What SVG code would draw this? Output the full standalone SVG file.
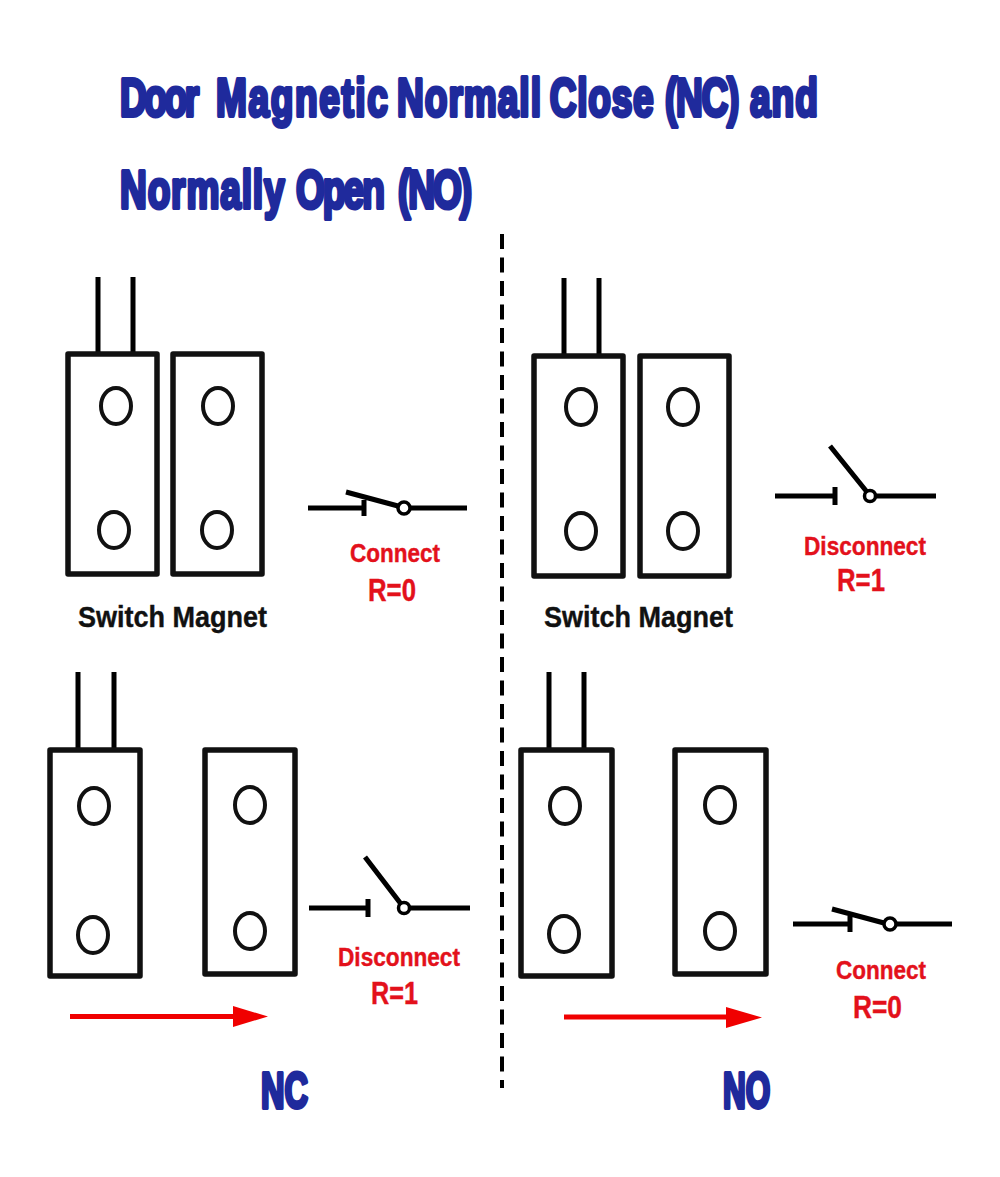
<svg xmlns="http://www.w3.org/2000/svg" width="1000" height="1177" viewBox="0 0 1000 1177">
<style>
text{font-family:"Liberation Sans",Arial,sans-serif;font-weight:bold}
.t{fill:#1f2a9c;stroke:#1f2a9c;stroke-width:4;stroke-linejoin:round;font-size:53px}
.b{fill:#1f2a9c;stroke:#1f2a9c;stroke-width:4;stroke-linejoin:round;font-size:50px}
.r{fill:#e3111b;stroke:#e3111b;stroke-width:.4;font-size:25px}
.v{fill:#e3111b;stroke:#e3111b;stroke-width:.4;font-size:31px}
.k{fill:#111;stroke:#111;stroke-width:.4;font-size:30px}
.box{fill:#fff;stroke:#111;stroke-width:5.500;stroke-linejoin:round}
.hole{fill:#fff;stroke:#111;stroke-width:4}
.ln{stroke:#000;stroke-width:5;fill:none}
.pv{fill:#fff;stroke:#000;stroke-width:3.500}
.ar{stroke:#f00000;stroke-width:5;fill:none}
.hd{fill:#f00000}
</style>
<g id="title">
<text class="t" transform="translate(120 116) scale(.7 1)"><tspan x="0" letter-spacing="-3.500">Door </tspan><tspan x="137" letter-spacing="2.300">Magnetic </tspan><tspan x="395.700" letter-spacing="1.400">Normall </tspan><tspan x="614" letter-spacing="1">Close </tspan><tspan x="778.600" letter-spacing="-1.900">(NC) </tspan><tspan x="900" letter-spacing="1.400">and</tspan></text>
<text class="t" transform="translate(120 208) scale(.7 1)"><tspan x="0" letter-spacing="1.200">Normally </tspan><tspan x="251.400" letter-spacing="-2.800">Open </tspan><tspan x="397" letter-spacing="-2.900">(NO)</tspan></text>
</g>
<g id="connectors">
<path d="M502 234V1088" stroke="#000" stroke-width="4" stroke-dasharray="15 8.500" fill="none"/>
<path class="ar" d="M70 1016.500H236"/><polygon class="hd" points="233,1006 268,1016.500 233,1027"/>
<path class="ar" d="M564 1017H728"/><polygon class="hd" points="726,1007 762,1017.500 726,1028"/>
</g>
<g id="nc-switch-closed">
<path class="ln" d="M98 277V352M133 277V352"/>
<rect class="box" x="68" y="354" width="89" height="220"/>
<ellipse class="hole" cx="116" cy="406" rx="15" ry="18"/><ellipse class="hole" cx="114" cy="530" rx="15" ry="18"/>
</g>
<g id="nc-magnet-closed">
<rect class="box" x="173" y="354" width="89" height="220"/>
<ellipse class="hole" cx="218" cy="406" rx="15" ry="18"/><ellipse class="hole" cx="217" cy="530" rx="15" ry="18"/>
</g>
<g id="nc-symbol-closed">
<path class="ln" d="M308 508H364M364 500V516M346 492L398 506M410 508H467"/>
<circle class="pv" cx="404" cy="508" r="6"/>
<text class="r" x="350" y="562" textLength="90" lengthAdjust="spacingAndGlyphs">Connect</text>
<text class="v" x="368" y="601" textLength="48" lengthAdjust="spacingAndGlyphs">R=0</text>
</g>
<text id="label-left" class="k" x="78" y="627" textLength="189" lengthAdjust="spacingAndGlyphs">Switch Magnet</text>
<g id="no-switch-open">
<path class="ln" d="M564 278V354M599 278V354"/>
<rect class="box" x="534" y="356" width="89" height="220"/>
<ellipse class="hole" cx="581" cy="407" rx="15" ry="18"/><ellipse class="hole" cx="581" cy="531" rx="15" ry="18"/>
</g>
<g id="no-magnet-open">
<rect class="box" x="640" y="356" width="89" height="220"/>
<ellipse class="hole" cx="683" cy="407" rx="15" ry="18"/><ellipse class="hole" cx="683" cy="531" rx="15" ry="18"/>
</g>
<g id="no-symbol-open">
<path class="ln" d="M775 496H835M835 487V505M830 446L867 492M876 496H936"/>
<circle class="pv" cx="870" cy="496" r="5.500"/>
<text class="r" x="804" y="555" textLength="122" lengthAdjust="spacingAndGlyphs">Disconnect</text>
<text class="v" x="837" y="591" textLength="48" lengthAdjust="spacingAndGlyphs">R=1</text>
</g>
<text id="label-right" class="k" x="544" y="627" textLength="189" lengthAdjust="spacingAndGlyphs">Switch Magnet</text>
<g id="nc-switch-apart">
<path class="ln" d="M78 672V748M114 672V748"/>
<rect class="box" x="50" y="750" width="90" height="226"/>
<ellipse class="hole" cx="94" cy="806" rx="15" ry="18"/><ellipse class="hole" cx="93" cy="935" rx="15" ry="18"/>
</g>
<g id="nc-magnet-apart">
<rect class="box" x="205" y="750" width="90" height="224"/>
<ellipse class="hole" cx="250" cy="805" rx="15" ry="18"/><ellipse class="hole" cx="250" cy="931" rx="15" ry="18"/>
</g>
<g id="nc-symbol-open">
<path class="ln" d="M309 908H368M368 899V917M365 857L401 904M410 908H470"/>
<circle class="pv" cx="404" cy="908" r="5.500"/>
<text class="r" x="338" y="966" textLength="122" lengthAdjust="spacingAndGlyphs">Disconnect</text>
<text class="v" x="371" y="1004" textLength="47" lengthAdjust="spacingAndGlyphs">R=1</text>
</g>
<g id="no-switch-apart">
<path class="ln" d="M549 672V748M584 672V748"/>
<rect class="box" x="521" y="750" width="91" height="226"/>
<ellipse class="hole" cx="565" cy="806" rx="15" ry="18"/><ellipse class="hole" cx="564" cy="934" rx="15" ry="18"/>
</g>
<g id="no-magnet-apart">
<rect class="box" x="675" y="750" width="91" height="224"/>
<ellipse class="hole" cx="720" cy="805" rx="15" ry="18"/><ellipse class="hole" cx="720" cy="931" rx="15" ry="18"/>
</g>
<g id="no-symbol-closed">
<path class="ln" d="M793 924H850M850 915V932M832 909L884 923M896 924H952"/>
<circle class="pv" cx="890" cy="924" r="6"/>
<text class="r" x="836" y="979" textLength="90" lengthAdjust="spacingAndGlyphs">Connect</text>
<text class="v" x="853" y="1018" textLength="49" lengthAdjust="spacingAndGlyphs">R=0</text>
</g>
<text id="label-nc" class="b" transform="translate(261 1108) scale(.65 1)">NC</text>
<text id="label-no" class="b" transform="translate(723 1108) scale(.63 1)">NO</text>
</svg>
